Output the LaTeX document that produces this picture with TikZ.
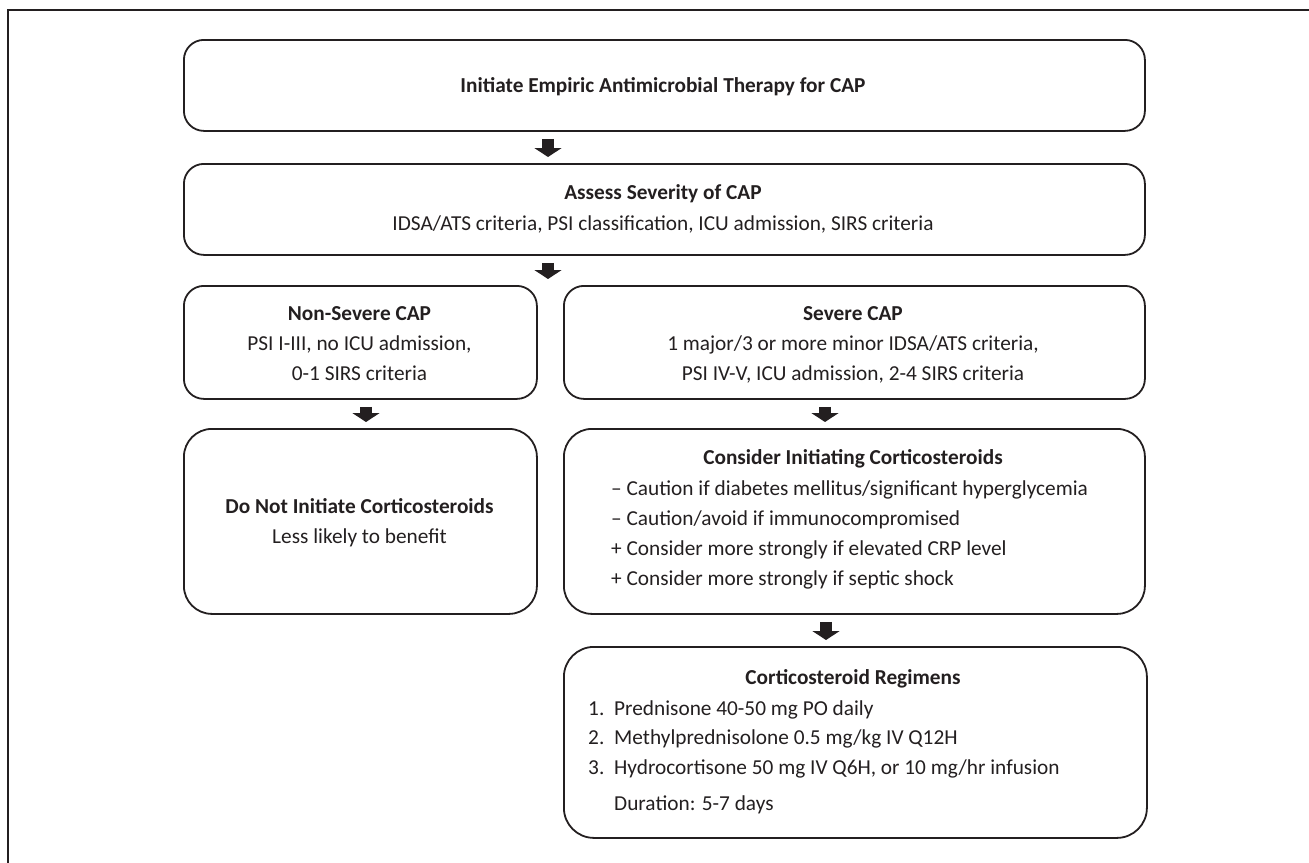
\documentclass[tikz,border=0pt]{standalone}
\usepackage{fontspec}
\setmainfont{Carlito}
\usetikzlibrary{arrows.meta}
\definecolor{ink}{HTML}{231F20}
\begin{document}
\begin{tikzpicture}[x=1pt,y=-1pt,
  box/.style={draw=ink, line width=1.8pt, rounded corners=#1, anchor=north west, inner sep=0pt},
  box/.default=20pt,
  txt/.style={text=ink, font=\fontsize{21.3}{26}\selectfont, inner sep=0pt, anchor=base},
  hd/.style={txt, font=\fontsize{21.3}{26}\selectfont\bfseries},
  lst/.style={txt, anchor=base west},
  barrow/.style={draw=ink, line width=12pt, -{Triangle[width=27pt,length=9pt]}, shorten <=7pt, shorten >=6pt}
]
\useasboundingbox (0,0) rectangle (1309,862);
\draw[ink, line width=1.8pt] (8,870) -- (8,10) -- (1320,10);

% boxes
\node[box, minimum width=961pt, minimum height=91pt] (b1) at (183,39) {};
\node[box, minimum width=961pt, minimum height=91pt] (b2) at (183,163) {};
\node[box, minimum width=353pt, minimum height=113pt] (b3) at (183,285) {};
\node[box, minimum width=581pt, minimum height=113pt] (b5) at (563,285) {};
\node[box=28pt, minimum width=353pt, minimum height=185pt] (b4) at (183,428) {};
\node[box=28pt, minimum width=581pt, minimum height=185pt] (b6) at (563,428) {};
\node[box=30pt, minimum width=583pt, minimum height=191pt] (b7) at (563,646) {};

% texts
\node[hd] (t1) at (663,92) {Initiate Empiric Antimicrobial Therapy for CAP};
\node[hd] (t2a) at (663,199) {Assess Severity of CAP};
\node[txt] (t2b) at (663,230) {IDSA/ATS criteria, PSI classification, ICU admission, SIRS criteria};
\node[hd] (t3a) at (359.5,320) {Non-Severe CAP};
\node[txt] (t3b) at (359.5,350) {PSI I-III, no ICU admission,};
\node[txt] (t3c) at (359.5,380) {0-1 SIRS criteria};
\node[hd] (t5a) at (853,320) {Severe CAP};
\node[txt] (t5b) at (853,350) {1 major/3 or more minor IDSA/ATS criteria,};
\node[txt] (t5c) at (853,380) {PSI IV-V, ICU admission, 2-4 SIRS criteria};
\node[hd] (t4a) at (359.5,513) {Do Not Initiate Corticosteroids};
\node[txt] (t4b) at (359.5,543) {Less likely to benefit};
\node[hd] (t6a) at (853,464) {Consider Initiating Corticosteroids};
\node[lst] (t6b) at (611,495) {– Caution if diabetes mellitus/significant hyperglycemia};
\node[lst] (t6c) at (611,525) {– Caution/avoid if immunocompromised};
\node[lst] (t6d) at (611,555) {+ Consider more strongly if elevated CRP level};
\node[lst] (t6e) at (611,585) {+ Consider more strongly if septic shock};
\node[hd] (t7a) at (853,684) {Corticosteroid Regimens};
\node[lst] (n1) at (588,715) {1.};
\node[lst] (t7b) at (614,715) {Prednisone 40-50 mg PO daily};
\node[lst] (n2) at (588,744) {2.};
\node[lst] (t7c) at (614,744) {Methylprednisolone 0.5 mg/kg IV Q12H};
\node[lst] (n3) at (588,774) {3.};
\node[lst] (t7d) at (614,774) {Hydrocortisone 50 mg IV Q6H, or 10 mg/hr infusion};
\node[lst] (t7e) at (614,810) {Duration: 5-7 days};

% arrows
\coordinate (xa) at (548,0);
\coordinate (xb) at (366,0);
\coordinate (xc) at (825,0);
\coordinate (xd) at (826,0);
\draw[barrow] (b1.south -| xa) -- (b2.north -| xa);
\draw[barrow] (b2.south -| xa) -- (b3.north -| xa);
\draw[barrow] (b3.south -| xb) -- (b4.north -| xb);
\draw[barrow] (b5.south -| xc) -- (b6.north -| xc);
\draw[barrow] (b6.south -| xd) -- (b7.north -| xd);
\end{tikzpicture}
\end{document}
